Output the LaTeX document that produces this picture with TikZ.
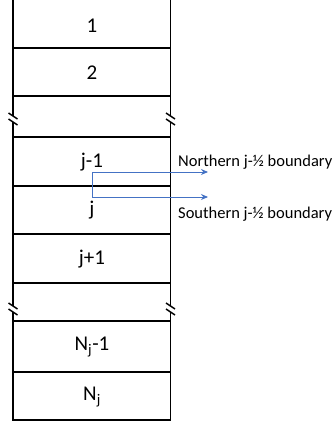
\documentclass[tikz,border=0pt]{standalone}
\usepackage{fontspec}
\setmainfont{Carlito}
\usetikzlibrary{arrows.meta}
\definecolor{arrowblue}{RGB}{68,114,196}
\tikzset{
  colline/.style={line width=1.4pt, black},
  cellnum/.style={font=\fontsize{21}{24}\selectfont, inner sep=0pt, anchor=center},
  lbl/.style={font=\fontsize{16.5}{19}\selectfont, inner sep=0pt, anchor=west},
  bluearrow/.style={line width=0.9pt, arrowblue, {Stealth[length=7pt,width=6pt]}-{Stealth[length=7pt,width=6pt]}},
  breakmark/.style={line width=1.4pt, black}
}
\begin{document}
\begin{tikzpicture}[x=1pt,y=-1pt]
\useasboundingbox (0,0) rectangle (334,425);
% horizontal boundaries
\foreach \yy in {48,96,137,186,234,283,321,372,420}
  \draw[colline] (13,\yy) -- (170.5,\yy);
% vertical edges with breaks
\foreach \xx in {13,170.5}{
  \draw[colline] (\xx,0) -- (\xx,116);
  \draw[colline] (\xx,122) -- (\xx,306);
  \draw[colline] (\xx,312) -- (\xx,420.7);
  \foreach \yy in {116,122,306,312}
    \draw[breakmark] (\xx-4.5,\yy-3) -- (\xx+4.5,\yy+3);
}
% cell labels
\node[cellnum] (c1) at (92,26) {1};
\node[cellnum] (c2) at (92,73) {2};
\node[cellnum] (cjm) at (92,162) {j-1};
\node[cellnum] (cj) at (92,210) {j};
\node[cellnum] (cjp) at (92,259) {j+1};
\node[cellnum] (cnm) at (92,347) {N\textsubscript{j}-1};
\node[cellnum] (cn) at (92,397) {N\textsubscript{j}};
% boundary labels
\node[lbl] (north) at (178,162) {Northern j-½ boundary};
\node[lbl] (south) at (178,214) {Southern j-½ boundary};
% arrows
\coordinate (ntip) at (208,172);
\coordinate (stip) at (208,197);
\coordinate (k1) at (92,172);
\coordinate (k2) at (92,197);
\draw[bluearrow] (ntip) -- (k1) -- (k2) -- (stip);
\end{tikzpicture}
\end{document}
